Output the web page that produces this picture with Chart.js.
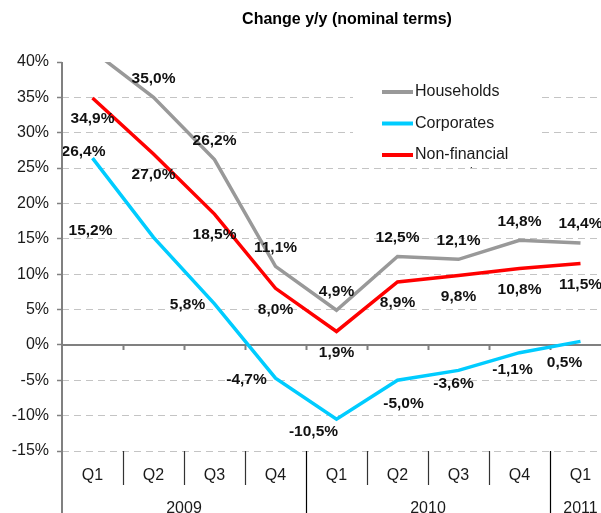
<!DOCTYPE html>
<html>
<head>
<meta charset="utf-8">
<script src="https://cdn.jsdelivr.net/npm/chart.js@4"></script>
<style>
    html, body { margin: 0; padding: 0; background: #fff; overflow: hidden; }
    #wrap { position: relative; width: 615px; height: 513px; }
</style>
</head>
<body>
<div id="wrap"><canvas id="changeChart"></canvas></div>
<script>
// chart data
const quarters = ['Q1', 'Q2', 'Q3', 'Q4', 'Q1', 'Q2', 'Q3', 'Q4', 'Q1'];
const years = ['2009', '2010', '2011'];
const yearSpans = [4, 4, 1];
const households = [41.6, 35.0, 26.2, 11.1, 4.9, 12.5, 12.1, 14.8, 14.4];
const corporates = [26.4, 15.2, 5.8, -4.7, -10.5, -5.0, -3.6, -1.1, 0.5];
const nonFinancial = [34.9, 27.0, 18.5, 8.0, 1.9, 8.9, 9.8, 10.8, 11.5];
const yTicks = [-15, -10, -5, 0, 5, 10, 15, 20, 25, 30, 35, 40];
const chartTitle = 'Change y/y (nominal terms)';

// where each value label sits relative to its point (px)
const householdsLabelShift = [[0, -19]];
const nonFinancialLabelShift = [[0, 21]];
const corporatesLabelShift = [[-9, -6], [-63, -7], [-27, 1], [-29, 2], [-23, 13], [6, 23], [-5, 13], [-7, 17], [-16, 21]];

const fontFamily = 'Arial, "Liberation Sans", sans-serif';
Chart.defaults.font.family = fontFamily;
Chart.defaults.color = '#1a1a1a';

function pct(v) {
    return v.toFixed(1).replace('.', ',') + '%';
}

const decor = {
    id: 'decor',
    beforeDatasetsDraw(chart) {
        const ctx = chart.ctx;
        const area = chart.chartArea;
        const xs = chart.scales.x;
        const y0 = chart.scales.y.getPixelForValue(0);
        const step = xs.getPixelForValue(1) - xs.getPixelForValue(0);

        ctx.save();
        // title (sits right of centre in the original)
        ctx.font = 'bold 16px ' + fontFamily;
        ctx.fillStyle = '#000';
        ctx.textAlign = 'center';
        ctx.textBaseline = 'middle';
        ctx.fillText(chartTitle, 347, 20);

        // zero line with tick marks
        ctx.strokeStyle = '#808080';
        ctx.lineWidth = 2;
        ctx.beginPath();
        ctx.moveTo(area.left, y0);
        ctx.lineTo(area.right, y0);
        for (let i = 1; i < quarters.length; i++) {
            const bx = Math.round(xs.getPixelForValue(i) - step / 2) + 0.5;
            ctx.moveTo(bx, y0);
            ctx.lineTo(bx, y0 + 5);
        }
        ctx.stroke();

        // legend inside the plot
        ctx.fillStyle = '#fff';
        ctx.fillRect(353, 73, 186, 95);
        ctx.beginPath();
        ctx.rect(353, 73, 186, 95);
        ctx.clip();
        ctx.font = '16px ' + fontFamily;
        ctx.textBaseline = 'middle';
        ctx.textAlign = 'left';
        chart.data.datasets.forEach((ds, i) => {
            const ly = 92 + i * 31.5;
            ctx.strokeStyle = ds.borderColor;
            ctx.lineWidth = 4;
            ctx.beginPath();
            ctx.moveTo(382, ly);
            ctx.lineTo(413, ly);
            ctx.stroke();
            ctx.fillStyle = '#1a1a1a';
            ds.legendLines.forEach((t, k) => ctx.fillText(t, 415, ly + k * 19));
        });
        ctx.restore();
    },
    afterDatasetsDraw(chart) {
        const ctx = chart.ctx;
        const ymax = chart.scales.y.max;
        ctx.save();
        ctx.font = 'bold 15.5px ' + fontFamily;
        ctx.fillStyle = '#111';
        ctx.textAlign = 'center';
        ctx.textBaseline = 'middle';
        chart.data.datasets.forEach((ds, i) => {
            const meta = chart.getDatasetMeta(i);
            meta.data.forEach((pt, j) => {
                if (ds.data[j] > ymax) return;
                const s = ds.labelShift[j] || ds.labelShift[0];
                ctx.fillText(pct(ds.data[j]), pt.x + s[0], pt.y + s[1]);
            });
        });
        ctx.restore();
    },
    afterDraw(chart) {
        const ctx = chart.ctx;
        const area = chart.chartArea;
        const xs = chart.scales.x;
        const h = chart.height;
        const step = xs.getPixelForValue(1) - xs.getPixelForValue(0);

        ctx.save();
        // y axis line, down through the category table
        ctx.strokeStyle = '#808080';
        ctx.lineWidth = 2;
        ctx.beginPath();
        ctx.moveTo(area.left, area.top);
        ctx.lineTo(area.left, h);
        ctx.stroke();

        // quarter separators and year separators
        const yearEnds = [];
        let acc = 0;
        yearSpans.forEach(n => { acc += n; yearEnds.push(acc); });
        for (let i = 1; i < quarters.length; i++) {
            const bx = Math.round(xs.getPixelForValue(i) - step / 2) + 0.5;
            const isYear = yearEnds.includes(i);
            ctx.strokeStyle = isYear ? '#000' : '#333';
            ctx.lineWidth = 1.2;
            ctx.beginPath();
            ctx.moveTo(bx, area.bottom);
            ctx.lineTo(bx, isYear ? h : area.bottom + 34);
            ctx.stroke();
        }

        ctx.font = '16px ' + fontFamily;
        ctx.fillStyle = '#1a1a1a';
        ctx.textAlign = 'center';
        ctx.textBaseline = 'middle';
        quarters.forEach((q, i) => {
            ctx.fillText(q, xs.getPixelForValue(i), area.bottom + 25);
        });
        let start = 0;
        years.forEach((yr, k) => {
            const end = start + yearSpans[k] - 1;
            const cx = (xs.getPixelForValue(start) + xs.getPixelForValue(end)) / 2;
            ctx.fillText(yr, cx, area.bottom + 58);
            start += yearSpans[k];
        });
        ctx.restore();
    }
};

new Chart(document.getElementById('changeChart'), {
    type: 'line',
    data: {
        labels: quarters,
        datasets: [{
            label: 'Households',
            legendLines: ['Households'],
            data: households,
            borderColor: '#999999',
            labelShift: householdsLabelShift
        }, {
            label: 'Corporates',
            legendLines: ['Corporates'],
            data: corporates,
            borderColor: '#00ccff',
            labelShift: corporatesLabelShift
        }, {
            label: 'Non-financial corporates',
            legendLines: ['Non-financial', 'corporates'],
            data: nonFinancial,
            borderColor: '#ff0000',
            labelShift: nonFinancialLabelShift
        }]
    },
    options: {
        responsive: true,
        maintainAspectRatio: false,
        animation: false,
        layout: { padding: { left: 0, right: 4, top: 62, bottom: 62 } },
        elements: {
            line: { borderWidth: 3.5, tension: 0, fill: false },
            point: { radius: 0, hoverRadius: 0 }
        },
        plugins: {
            legend: { display: false },
            tooltip: { enabled: false },
            title: { display: false }
        },
        scales: {
            x: {
                display: false,
                offset: true
            },
            y: {
                min: -15,
                max: 40,
                afterFit: scale => { scale.width = 62; },
                afterBuildTicks: scale => { scale.ticks = yTicks.map(v => ({ value: v })); },
                border: { display: false, dash: [7, 5] },
                grid: {
                    color: c => (c.tick && (c.tick.value === 0 || c.tick.value === 40)) ? 'rgba(0,0,0,0)' : '#c4c4c4',
                    lineWidth: 1,
                    drawTicks: true,
                    tickLength: 5,
                    tickColor: '#808080',
                    tickWidth: 1.5,
                    tickBorderDash: []
                },
                ticks: {
                    padding: 8,
                    color: '#1a1a1a',
                    font: { size: 16 },
                    callback: v => v + '%'
                }
            }
        }
    },
    plugins: [decor]
});
</script>
</body>
</html>
